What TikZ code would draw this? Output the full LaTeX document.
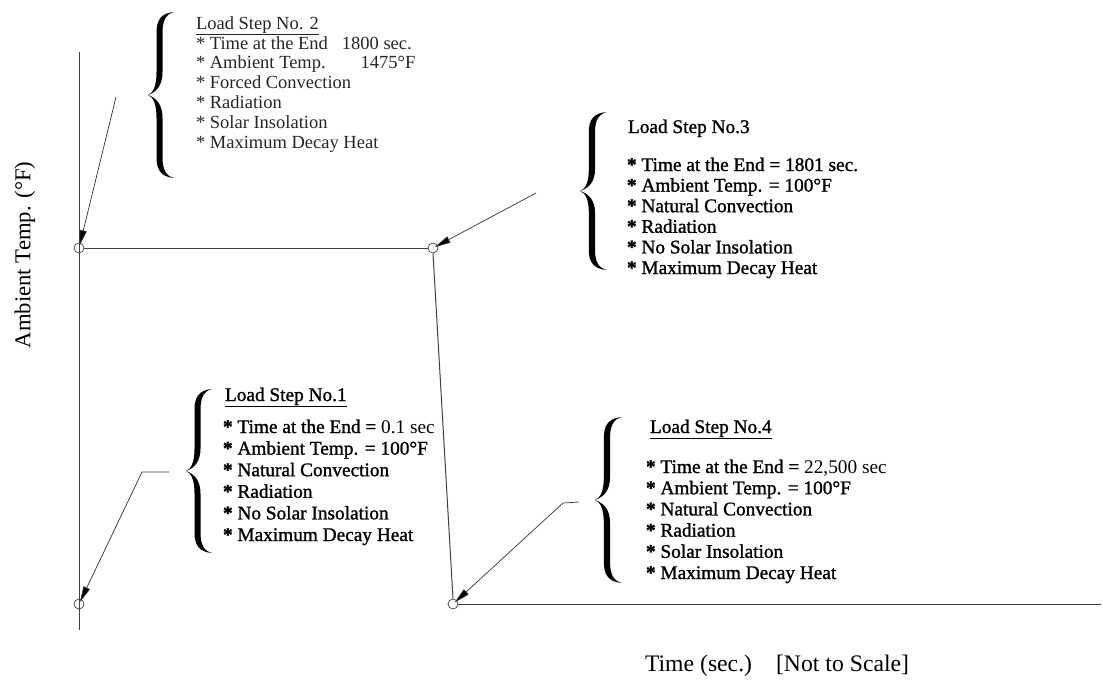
\documentclass[tikz,border=0pt]{standalone}
\usepackage{fontspec}
\setmainfont{Liberation Serif}
\newfontfamily\boldish[FakeBold=1.2]{Liberation Serif}
\usetikzlibrary{arrows.meta}
\tikzset{
  pt/.style={circle,draw=black!75,line width=0.7pt,minimum size=10pt,inner sep=0pt},
  axis/.style={draw=black!75,line width=1pt},
  lead/.style={draw=black!80,line width=0.7pt,shorten >=2pt,-{Triangle[length=16pt,width=7pt,fill=black]}},
  lbl/.style={anchor=base west,inner sep=0pt,outer sep=0pt},
  bigbrace/.pic={\fill[black] (26,-80) .. controls (13,-79) and (8.5,-72) .. (8.5,-60) -- (8.5,-22)
     .. controls (8.5,-8) and (5,-2) .. (0,0) .. controls (5,2) and (8.5,8) .. (8.5,22) -- (8.5,60)
     .. controls (8.5,72) and (13,79) .. (26,80) .. controls (18,78) and (14.5,72) .. (14.5,60)
     -- (14.5,22) .. controls (14.5,10) and (9,3) .. (0,0) .. controls (9,-3) and (14.5,-10) .. (14.5,-22)
     -- (14.5,-60) .. controls (14.5,-72) and (18,-78) .. (26,-80) -- cycle;}
}
\newcommand{\bst}{\textbf{*}}
\begin{document}
\begin{tikzpicture}[x=1pt,y=-1pt]
\useasboundingbox (0,0) rectangle (1103,681);
% points
\node[pt] (p1) at (79,604) {};
\node[pt] (p2) at (79,248) {};
\node[pt] (p3) at (433,248) {};
\node[pt] (p4) at (453,604) {};
\coordinate (ytop) at (79,52);
\coordinate (ybot) at (79,630);
\coordinate (xend) at (1101,604);
% axis and curve
\draw[axis] (ytop) -- (ybot);
\draw[axis] (p2.east) -- (p3.west);
\draw[axis] (p3.south) -- (p4.north);
\draw[axis] (p4.east) -- (xend);
% leaders
\coordinate (a2) at (116,97);
\draw[lead] (a2) -- (p2.center);
\coordinate (a3) at (536,193);
\draw[lead] (a3) -- (p3.center);
\coordinate (a1) at (169,472);
\coordinate (b1) at (142,472);
\draw[lead] (a1) -- (b1) -- (p1.center);
\coordinate (a4) at (579,502);
\coordinate (b4) at (563,503);
\draw[lead] (a4) -- (b4) -- (p4.center);
% braces
\pic[yscale=83/80] at (148,95) {bigbrace};
\pic[yscale=79/80,xscale=27/26] at (580,191) {bigbrace};
\pic[yscale=82/80] at (186,471) {bigbrace};
\pic[yscale=83/80,xscale=27/26] at (595,500) {bigbrace};
% Load step 2
\node[lbl,font=\fontsize{18.5}{19.8}\selectfont,text=black!85] (t2) at (196,29) {\underline{Load Step No. 2}};
\node[lbl,font=\fontsize{18.5}{19.8}\selectfont,text=black!85] (l2) at (196,49) {\begin{tabular}[t]{@{}l@{}}
{*} Time at the End\hspace{14pt}1800 sec.\\
{*} Ambient Temp.\hspace{35pt}1475°F\\
{*} Forced Convection\\
{*} Radiation\\
{*} Solar Insolation\\
{*} Maximum Decay Heat
\end{tabular}};
% Load step 3
\node[lbl,font=\boldish\fontsize{19.3}{20.6}\selectfont] (t3) at (628,133) {Load Step No.3};
\node[lbl,font=\boldish\fontsize{19.3}{20.6}\selectfont] (l3) at (627,171) {\begin{tabular}[t]{@{}l@{}}
\bst{} Time at the End = 1801 sec.\\
\bst{} Ambient Temp. = 100°F\\
\bst{} Natural Convection\\
\bst{} Radiation\\
\bst{} No Solar Insolation\\
\bst{} Maximum Decay Heat
\end{tabular}};
% Load step 1
\node[lbl,font=\boldish\fontsize{19.3}{21.6}\selectfont] (t1) at (225,401) {\underline{Load Step No.1}};
\node[lbl,font=\boldish\fontsize{19.3}{21.6}\selectfont] (l1) at (223,433) {\begin{tabular}[t]{@{}l@{}}
\bst{} Time at the End = {\rmfamily 0.1 sec}\\
\bst{} Ambient Temp. = 100°F\\
\bst{} Natural Convection\\
\bst{} Radiation\\
\bst{} No Solar Insolation\\
\bst{} Maximum Decay Heat
\end{tabular}};
% Load step 4
\node[lbl,font=\boldish\fontsize{19.3}{21.2}\selectfont] (t4) at (650,433) {\underline{Load Step No.4}};
\node[lbl,font=\boldish\fontsize{19.3}{21.2}\selectfont] (l4) at (646,473) {\begin{tabular}[t]{@{}l@{}}
\bst{} Time at the End = {\rmfamily 22,500 sec}\\
\bst{} Ambient Temp. = 100°F\\
\bst{} Natural Convection\\
\bst{} Radiation\\
\bst{} Solar Insolation\\
\bst{} Maximum Decay Heat
\end{tabular}};
% axis labels
\node[rotate=90,inner sep=0pt,font=\fontsize{22.7}{27}\selectfont] (ylab) at (25,255) {Ambient Temp. (°F)};
\node[lbl,font=\fontsize{23.7}{28}\selectfont] (xlab) at (645,671) {Time (sec.)\hspace{24pt}[Not to Scale]};
\end{tikzpicture}
\end{document}
